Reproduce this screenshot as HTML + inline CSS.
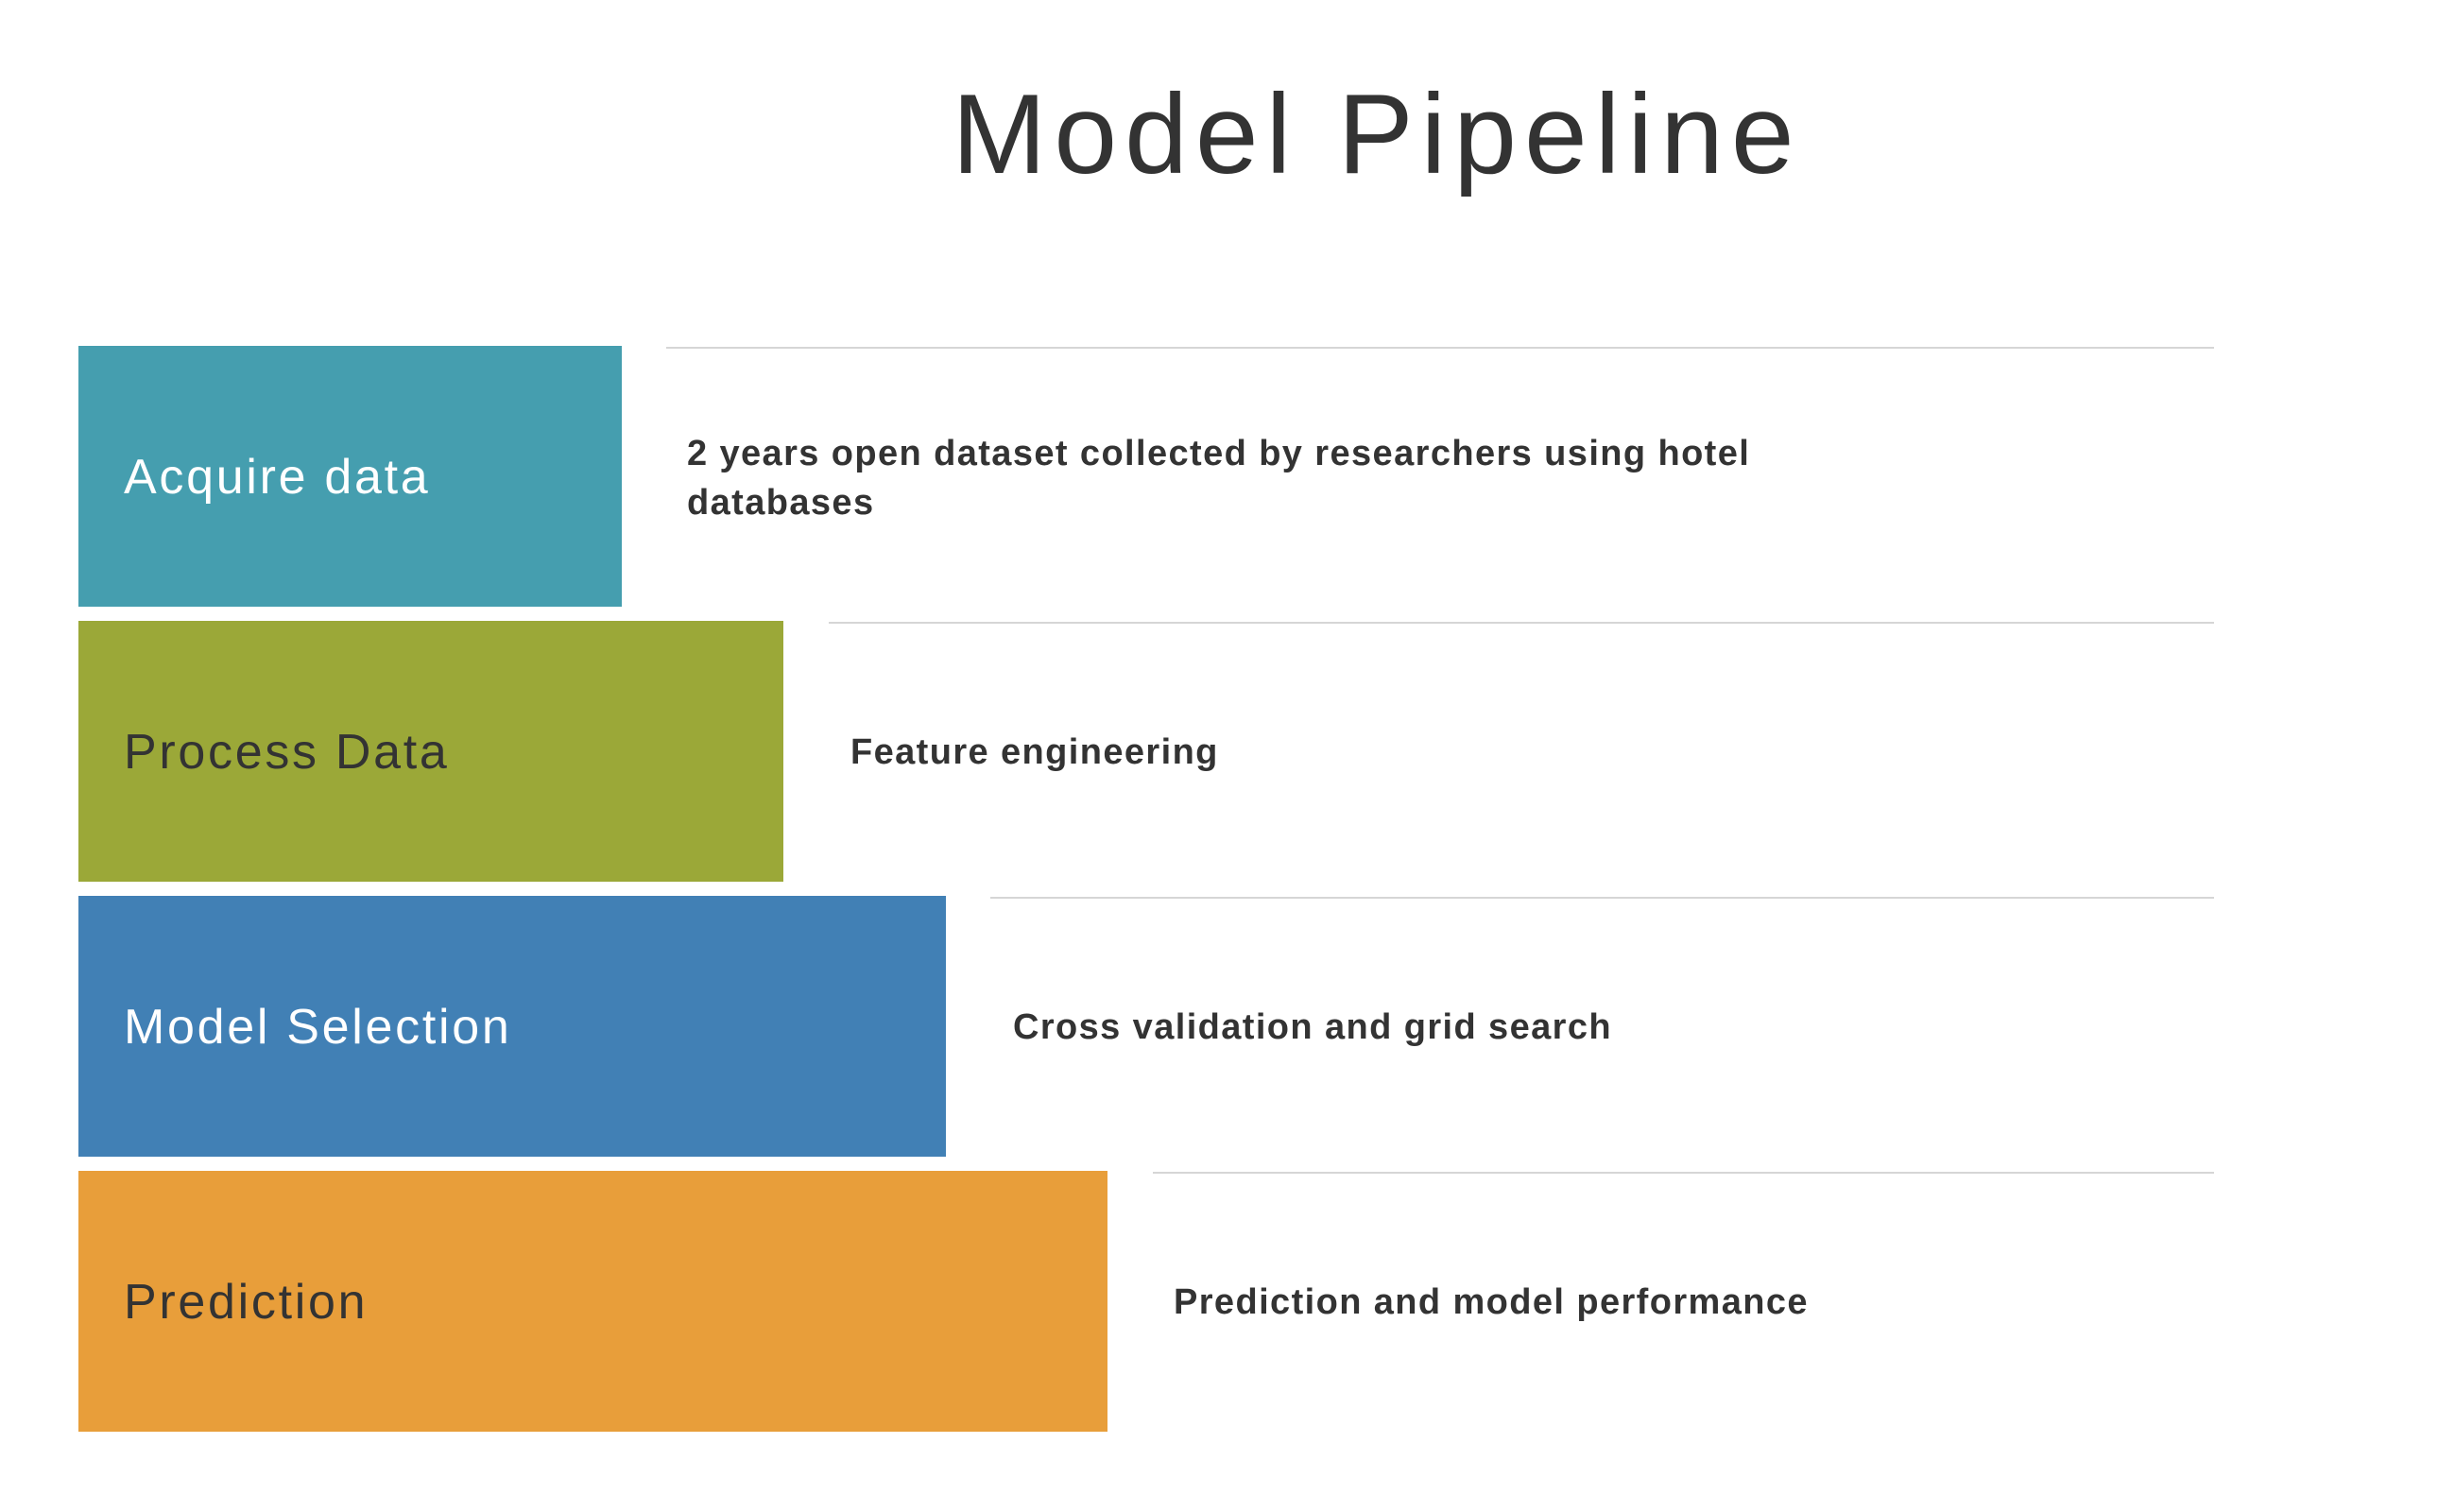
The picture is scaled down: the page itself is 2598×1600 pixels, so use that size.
<!DOCTYPE html>
<html><head><meta charset="utf-8"><style>
body{margin:0;width:2598px;height:1600px;background:#fff;position:relative;overflow:hidden;font-family:"Liberation Sans",sans-serif}
.t{position:absolute;left:0;width:2914px;text-align:center;top:72px;font-size:120px;color:#333;font-weight:300;line-height:140px;letter-spacing:8px}
.b{position:absolute;left:83px;height:276px}
.l{position:absolute;left:131px;font-size:52px;line-height:276px;white-space:nowrap;letter-spacing:2.7px}
.ln{position:absolute;height:2px;background:#d6d6d6;right:255px}
.d{position:absolute;font-size:38px;font-weight:bold;color:#333;line-height:52px;white-space:nowrap;letter-spacing:1.4px}
</style></head><body>
<div class="t">Model Pipeline</div>

<div class="b" style="top:366px;width:575px;background:#459EAF"></div>
<div class="l" style="top:367px;color:#fff">Acquire data</div>
<div class="ln" style="top:367px;left:705px"></div>
<div class="d" style="left:727px;top:454px">2 years open dataset collected by researchers using hotel<br>databases</div>

<div class="b" style="top:657px;width:746px;background:#9BA838"></div>
<div class="l" style="top:658px;color:#333">Process Data</div>
<div class="ln" style="top:658px;left:877px"></div>
<div class="d" style="left:900px;top:770px">Feature engineering</div>

<div class="b" style="top:948px;width:918px;background:#4180B5"></div>
<div class="l" style="top:949px;color:#fff">Model Selection</div>
<div class="ln" style="top:949px;left:1048px"></div>
<div class="d" style="left:1072px;top:1061px">Cross validation and grid search</div>

<div class="b" style="top:1239px;width:1089px;background:#E89E3A"></div>
<div class="l" style="top:1240px;color:#333">Prediction</div>
<div class="ln" style="top:1240px;left:1220px"></div>
<div class="d" style="left:1242px;top:1352px">Prediction and model performance</div>
</body></html>
